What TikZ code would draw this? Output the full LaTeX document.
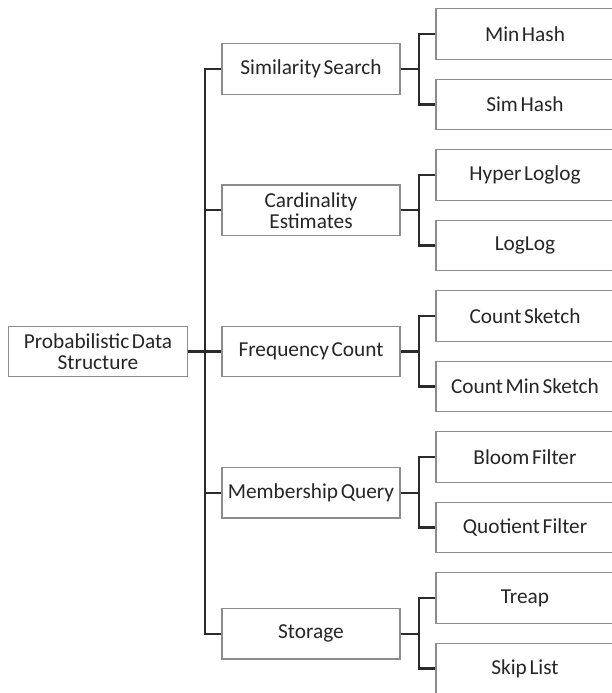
\documentclass[tikz,border=0pt]{standalone}
\usepackage{fontspec}
\setmainfont[WordSpace=0.55]{Carlito}
\begin{document}
\begin{tikzpicture}[x=1pt,y=-1pt,
  box/.style={draw=boxgray, line width=1.3pt, fill=white, rectangle,
    minimum width=178pt, minimum height=50.5pt, inner sep=1pt,
    align=center, text=textgray,
    font=\fontsize{21.3}{21}\selectfont},
  conn/.style={draw=linegray, line width=2.2pt}]
\definecolor{boxgray}{HTML}{8C8C8C}
\definecolor{linegray}{HTML}{2B2B2B}
\definecolor{textgray}{HTML}{262626}
\useasboundingbox (0,0) rectangle (612,693);
\clip (0,0) rectangle (612,693);
\fill[white] (0,0) rectangle (612,693);

% root
\node[box, minimum width=179pt] (root) at (98,351.5) {Probabilistic Data\\Structure};

% categories
\node[box] (m1) at (311,69)    {Similarity Search};
\node[box] (m2) at (311,210.2) {Cardinality\\Estimates};
\node[box] (m3) at (311,351.5) {Frequency Count};
\node[box] (m4) at (311,492.7) {Membership Query};
\node[box] (m5) at (311,633.8) {Storage};

% structures (right edges run past the page)
\node[box] (l1)  at (525,34)    {Min Hash};
\node[box] (l2)  at (525,104.5) {Sim Hash};
\node[box] (l3)  at (525,175)   {Hyper Loglog};
\node[box] (l4)  at (525,245.5) {LogLog};
\node[box] (l5)  at (525,316)   {Count Sketch};
\node[box] (l6)  at (525,386.5) {Count Min Sketch};
\node[box] (l7)  at (525,457)   {Bloom Filter};
\node[box] (l8)  at (525,527.5) {Quotient Filter};
\node[box] (l9)  at (525,598)   {Treap};
\node[box] (l10) at (525,668.5) {Skip List};

% trunk from the root to each category
\foreach \m in {m1,m2,m3,m4,m5}
  \draw[conn] (root.east) -- ++(17,0) |- (\m.west);

% brackets from each category to its two structures
\foreach \m/\a/\b in {m1/l1/l2, m2/l3/l4, m3/l5/l6, m4/l7/l8, m5/l9/l10}{
  \draw[conn] (\m.east) -- ++(18,0) |- (\a.west);
  \draw[conn] (\m.east) -- ++(18,0) |- (\b.west);
}
\end{tikzpicture}
\end{document}
